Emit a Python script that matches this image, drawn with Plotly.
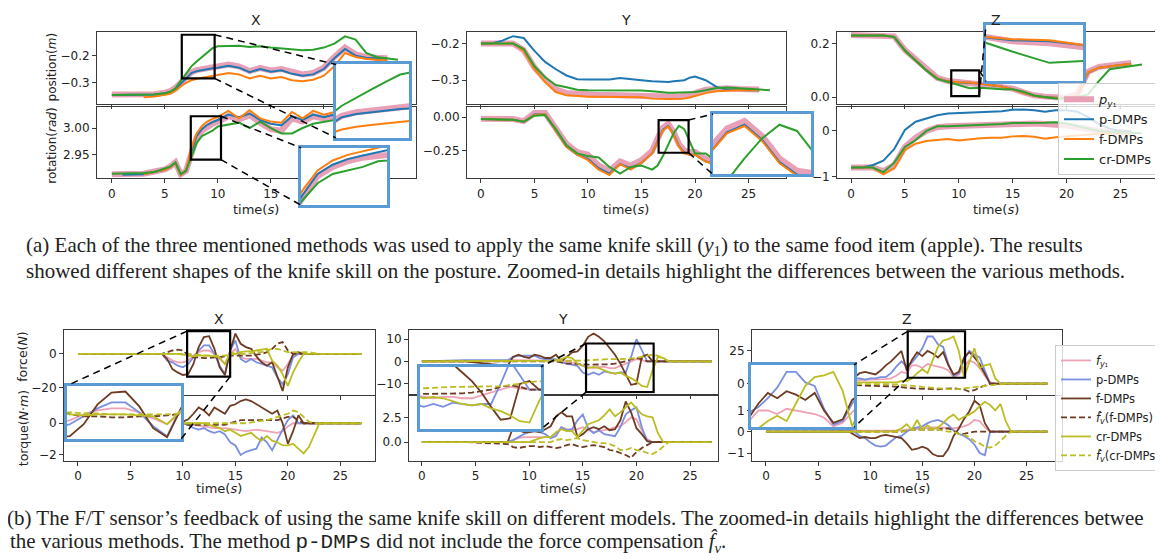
import plotly.graph_objects as go

W, H = 1163, 559

# ======================= (a) posture data =======================
T_AX = [0, 1, 2, 3, 4, 5, 5.5, 6, 6.5, 7, 7.5,
        8, 8.5, 9, 9.5, 10, 11, 12, 13, 14, 15, 16,
        17, 18, 19, 20, 21, 22, 23, 24, 25, 26, 27]
# X position (m)
PX_P = [-0.345, -0.345, -0.345, -0.345, -0.344, -0.338, -0.333, -0.32, -0.3, -0.28, -0.262,
        -0.254, -0.25, -0.246, -0.243, -0.24, -0.233, -0.24, -0.258, -0.246, -0.255, -0.25,
        -0.262, -0.27, -0.265, -0.245, -0.205, -0.17, -0.195, -0.205, -0.208, -0.21, None]
PX_B = [-0.347, -0.347, -0.347, -0.347, -0.345, -0.34, -0.336, -0.325, -0.305, -0.285, -0.265,
        -0.258, -0.254, -0.25, -0.247, -0.245, -0.238, -0.245, -0.262, -0.25, -0.26, -0.255,
        -0.268, -0.275, -0.27, -0.25, -0.21, -0.175, -0.2, -0.208, -0.21, -0.212, None]
PX_O = [None, None, None, -0.355, -0.353, -0.346, -0.342, -0.332, -0.315, -0.302, -0.292,
        -0.286, -0.282, -0.279, -0.276, -0.272, -0.265, -0.27, -0.285, -0.275, -0.285, -0.28,
        -0.292, -0.296, -0.29, -0.275, -0.24, -0.19, -0.205, -0.212, -0.215, -0.218, None]
PX_G = [-0.347, -0.347, -0.347, -0.347, -0.345, -0.34, -0.335, -0.322, -0.295, -0.265, -0.24,
        -0.222, -0.205, -0.188, -0.172, -0.165, -0.165, -0.163, -0.168, -0.165, -0.17, -0.174,
        -0.178, -0.18, -0.178, -0.17, -0.155, -0.128, -0.14, -0.19, -0.205, -0.21, -0.215]
# X rotation (rad)
RX_P = [2.914, 2.914, 2.914, 2.915, 2.919, 2.923, 2.928, 2.936, 2.914, 2.92, 2.952,
        2.982, 2.995, 3.003, 3.008, 3.012, 3.022, 3.016, 3.024, 3.01, 2.998, 2.995,
        3.018, 3.012, 3.022, 3.018, 3.022, 3.018, 3.022, 3.018, 3.02, 3.018, None]
RX_B = [None, 2.913, 2.913, 2.914, 2.918, 2.922, 2.927, 2.935, 2.913, 2.92, 2.955,
        2.985, 2.998, 3.006, 3.011, 3.015, 3.025, 3.02, 3.027, 3.015, 3.008, 3.005,
        3.022, 3.015, 3.025, 3.02, 3.025, 3.02, 3.025, 3.02, 3.022, 3.02, None]
RX_O = [None, None, None, 2.914, 2.918, 2.922, 2.927, 2.935, 2.913, 2.922, 2.962,
        2.99, 3.004, 3.012, 3.017, 3.021, 3.032, 3.018, 3.033, 3.018, 3.012, 3.01,
        3.03, 3.018, 3.032, 3.025, 3.03, 3.025, 3.03, 3.025, 3.027, 3.025, None]
RX_G = [2.915, 2.915, 2.915, 2.916, 2.918, 2.924, 2.928, 2.936, 2.914, 2.92, 2.948,
        2.972, 2.985, 2.99, 2.995, 3.003, 3.007, 3.01, 3.0, 3.012, 3.0, 2.99,
        2.99, 3.0, 3.008, 3.012, 3.015, 3.012, 3.015, 3.015, 3.018, 3.02, 3.02]

T_AY = [0, 1, 2, 3, 4, 5, 6, 7,
        8, 9, 10, 11, 12, 13, 14, 15,
        16, 16.5, 17, 17.5, 18, 18.5, 19, 19.5,
        20, 21, 22, 23, 24, 25, 26, 27]
PY_P = [-0.2, -0.2, -0.2, -0.2, -0.218, -0.265, -0.298, -0.325,
        -0.335, -0.338, -0.34, -0.34, -0.34, -0.341, -0.34, -0.341,
        -0.344, -0.345, -0.345, -0.345, -0.345, -0.345, -0.343, -0.34,
        -0.335, -0.326, -0.322, -0.322, -0.324, -0.325, -0.325, None]
PY_B = [-0.2, -0.2, -0.192, -0.18, -0.185, -0.22, -0.25, -0.27,
        -0.287, -0.297, -0.298, -0.298, -0.298, -0.294, -0.298, -0.3,
        -0.303, -0.304, -0.305, -0.305, -0.303, -0.302, -0.3, -0.293,
        -0.29, -0.3, -0.318, -0.325, -0.327, -0.327, -0.327, None]
PY_O = [-0.2, -0.2, -0.2, -0.2, -0.22, -0.27, -0.305, -0.332,
        -0.341, -0.344, -0.345, -0.345, -0.345, -0.346, -0.344, -0.346,
        -0.35, -0.351, -0.351, -0.351, -0.351, -0.351, -0.35, -0.347,
        -0.343, -0.335, -0.33, -0.328, -0.327, -0.327, -0.327, None]
PY_G = [-0.2, -0.2, -0.2, -0.2, -0.215, -0.262, -0.292, -0.313,
        -0.319, -0.326, -0.327, -0.327, -0.327, -0.328, -0.327, -0.328,
        -0.33, -0.332, -0.333, -0.334, -0.334, -0.334, -0.334, -0.333,
        -0.332, -0.327, -0.321, -0.32, -0.322, -0.325, -0.327, -0.327]
RY_P = [-0.012, -0.012, -0.012, -0.015, -0.03, 0.03, 0.03, -0.085,
        -0.2, -0.26, -0.28, -0.36, -0.4, -0.33, -0.36, -0.32,
        -0.25, -0.16, -0.08, -0.05, -0.11, -0.2, -0.25, -0.26,
        -0.26, -0.31, -0.34, -0.35, -0.36, -0.36, -0.36, None]
RY_B = [-0.015, -0.015, -0.015, -0.02, -0.035, 0.02, 0.02, -0.1,
        -0.22, -0.28, -0.31, -0.38, -0.42, -0.35, -0.38, -0.34,
        -0.27, -0.18, -0.095, -0.065, -0.125, -0.215, -0.265, -0.28,
        -0.28, -0.33, -0.35, -0.36, -0.37, -0.37, -0.37, None]
RY_O = [-0.015, -0.015, -0.015, -0.02, -0.035, 0.015, 0.02, -0.1,
        -0.22, -0.28, -0.32, -0.39, -0.43, -0.35, -0.39, -0.34,
        -0.27, -0.18, -0.1, -0.07, -0.13, -0.22, -0.27, -0.28,
        -0.28, -0.33, -0.35, -0.36, -0.37, -0.37, -0.37, None]
RY_G = [-0.015, -0.015, -0.015, -0.02, -0.035, 0.01, 0.015, -0.09,
        -0.21, -0.27, -0.29, -0.3, -0.37, -0.42, -0.37, -0.36,
        -0.39, -0.36, -0.29, -0.2, -0.12, -0.065, -0.09, -0.18,
        -0.27, -0.27, -0.33, -0.36, -0.37, -0.37, -0.37, -0.37]

T_AZ = [0, 1, 2, 3, 4, 5, 6,
        7, 8, 9, 10, 11, 12, 13,
        14, 15, 16, 17, 18, 19, 20,
        21, 22, 23, 24, 25, 26, 27]
PZ_P = [0.232, 0.232, 0.232, 0.232, 0.227, 0.176, 0.14,
        0.103, 0.072, 0.06, 0.054, 0.052, 0.048, 0.044,
        0.04, 0.032, 0.018, 0.007, 0.002, 0.0, -0.002,
        0.01, 0.095, 0.113, 0.118, 0.122, 0.128, None]
PZ_B = [0.23, 0.23, 0.23, 0.23, 0.225, 0.174, 0.137,
        0.1, 0.07, 0.059, 0.055, 0.054, 0.05, 0.045,
        0.04, 0.03, 0.016, 0.005, 0.0, -0.002, -0.005,
        0.005, 0.092, 0.11, 0.115, 0.12, 0.125, None]
PZ_O = [0.23, 0.23, 0.23, 0.23, 0.225, 0.174, 0.137,
        0.1, 0.07, 0.059, 0.056, 0.055, 0.05, 0.045,
        0.04, 0.03, 0.016, 0.005, 0.0, -0.002, -0.005,
        0.005, 0.093, 0.11, 0.115, 0.12, 0.125, None]
PZ_G = [0.23, 0.23, 0.23, 0.23, 0.225, 0.174, 0.137,
        0.1, 0.068, 0.056, 0.044, 0.033, 0.035, 0.032,
        0.03, 0.03, 0.02, 0.006, 0.0, -0.005, -0.005,
        0.0, 0.01, 0.06, 0.104, 0.11, 0.115, 0.122]
RZ_P = [-0.8, -0.8, -0.8, -0.88, -0.75, -0.35, -0.15,
        0.0, 0.08, 0.1, 0.11, 0.12, 0.13, 0.14,
        0.15, 0.16, 0.17, 0.16, 0.15, 0.14, 0.12,
        0.08, 0.03, 0.0, -0.02, -0.03, -0.04, None]
RZ_B = [-0.8, -0.8, -0.75, -0.65, -0.4, 0.02, 0.2,
        0.27, 0.34, 0.38, 0.39, 0.4, 0.41, 0.42,
        0.43, 0.46, 0.47, 0.45, 0.42, 0.45, 0.45,
        0.42, 0.3, 0.15, 0.05, 0.0, -0.02, None]
RZ_O = [-0.8, -0.8, -0.8, -0.95, -0.82, -0.42, -0.28,
        -0.22, -0.2, -0.18, -0.21, -0.18, -0.16, -0.15,
        -0.15, -0.12, -0.11, -0.13, -0.17, -0.14, -0.12,
        -0.1, -0.07, -0.06, -0.05, -0.05, -0.05, None]
RZ_G = [-0.8, -0.8, -0.8, -0.9, -0.7, -0.35, -0.2,
        0.0, 0.1, 0.1, 0.11, 0.12, 0.13, 0.13,
        0.15, 0.17, 0.17, 0.17, 0.18, 0.19, 0.16,
        0.1, 0.05, 0.0, -0.02, -0.03, -0.04, -0.05]

# ======================= (b) F/T data =======================
T_B = [0, 4, 8, 8.5, 9, 9.5, 10, 10.5, 11, 11.5, 12, 12.5,
       13, 13.5, 14, 14.5, 15, 15.5, 16, 16.5, 17, 17.5, 18, 18.5,
       19, 19.5, 20, 20.5, 21, 21.5, 22, 22.5, 23, 23.5, 24, 27]
# X force (N)
FX_P = [0, 0, 0, -2, -4, -5, -5, -4, -1, 1, 2, 2,
        0, -3, -6, 0, 3, -2, -3, -3, -3, -4, -5, -5,
        -8, -10, -6, -1, 0, 0, 0, 0, 0, 0, 0, 0]
FX_B = [0, 0, 0, -4, -5, -7, -8, -6, -2, 2, 5, 5,
        0, -7, -12, 2, 8, -3, -5, -3, -5, -6, -7, -8,
        -14, -18, -12, -2, 0, 0, 0, 0, 0, 0, 0, 0]
FX_F = [0, 0, 0, -3, -9, -11, -12.5, -12, -6, 4, 10, 10.5,
        3, -8, -12.5, 2, 12, 6, 4, 3, -1.5, -5, -7, -5,
        -14, -22, -8, 0, 1, 0, 0, 0, 0, 0, 0, 0]
FX_FV = [0, 0, 0, 1, 2, 2.5, 2, -1, -2, -2, -2.5, -2.5,
         -2, -2, -1.5, -1, -1, -1, -1, -1, -0.5, 0, 1, 3,
         6, 7, 2, 0, 0, 0, 0, 0, 0, 0, 0, 0]
FX_C = [0, 0, 0, 0, 0, 0, -0.5, -1, -1.5, -1, -1, -1,
        -1.5, -2, -6, 1, 0, 1, 1.5, 1.5, 2, 2.5, 3, -4,
        -7, -12, -19, -11, -5, 0, 0, 0, 0, 0, 0, 0]
FX_CV = [0, 0, 0, 0, 0, 0, 0, 0, -0.5, -0.5, -1, -1,
         -1, -1, -1, -0.5, 0, 0, 0, 0.5, 1, 1, 2, 3,
         3, 2, 1, 1, 1, 1, 1, 0.5, 0, 0, 0, 0]
# X torque (N m)
TX_P = [0, 0, 0, 0, 0, 0, 0, -0.05, -0.1, -0.15, -0.2, -0.25,
        -0.3, -0.3, -0.3, -0.35, -0.4, -0.45, -0.5, -0.45, -0.4, -0.45, -0.5, -0.55,
        -0.6, -0.5, -0.2, 0, 0, 0, 0, 0, 0, 0, 0, 0]
TX_B = [0, 0, 0, 0, 0, 0, 0, -0.1, -0.3, -0.4, -0.3, -0.5,
        -0.6, -0.5, -0.7, -1.2, -1.4, -2.0, -1.8, -1.7, -1.6, -0.9, -1.2, -1.7,
        -1.0, -0.4, 0.2, 0.5, 0, 0, 0, 0, 0, 0, 0, 0]
TX_F = [0, 0, 0, 0, 0, 0, 0.1, 0.25, 0.6, 1.0, 0.8, 0.5,
        1.0, 0.8, 0.6, 1.1, 1.2, 1.4, 1.5, 1.4, 1.2, 1.0, 0.8, 0.6,
        0.8, 0.0, -1.3, -0.5, 0.5, 0, 0, 0, 0, 0, 0, 0]
TX_FV = [0, 0, 0, 0, 0, 0, 0, -0.1, -0.1, -0.1, -0.1, -0.1,
         -0.1, -0.1, -0.1, 0, 0.1, 0.2, 0.2, 0.2, 0.2, 0.2, 0.2, 0.2,
         0.2, 0.3, 0.4, 0.4, 0.2, 0, 0, 0, 0, 0, 0, 0]
TX_C = [0, 0, 0, 0, 0, 0, 0, 0, 0, 0, 0, -0.1,
        -0.2, -0.3, -0.5, -0.4, -0.6, -0.8, -0.7, -0.6, -0.9, -1.1, -0.8, -1.1,
        -1.2, -1.4, -1.4, -1.3, -1.6, -1.9, -1.5, -0.8, 0, 0, 0, 0]
TX_CV = [0, 0, 0, 0, 0, 0, 0, 0, 0, 0, 0, 0,
         0, 0, 0, 0, 0, 0, 0, 0.05, 0.1, 0.15, 0.2, 0.3,
         0.4, 0.5, 0.6, 0.8, 0.7, 0.4, 0.1, 0, 0, 0, 0, 0]
# Y force
FY_P = [0, 0, 0, 0.5, 0.5, 0.5, 0.5, 0.5, 0.5, 0.5, 0.5, 0.5,
        0.3, 0, -0.5, -1, -2, -2.5, -3, -2.5, -2.5, -3, -3, -2,
        -1, 0, 1, 0.5, 0, 0, 0, 0, 0, 0, 0, 0]
FY_B = [0, 0.5, 0.5, 2, 2.5, 2.5, 2.5, 2.5, 1.5, 1, 1, 1,
        -0.5, -1, -1.5, -2, -5, -6, -5, -6, -4.5, -5, -5.5, -5,
        -5, 2, 10, 5, 0, 0, 0, 0, 0, 0, 0, 0]
FY_F = [0, 0, -2, 2, 3, 2, 1.5, 3, 2.5, 1.5, 1.5, 3,
        0, 2, 4, 4.5, 7, 11, 12.5, 11, 9, 6, 3, -1,
        -6, -10.5, -10, 2, 3, 0, 0, 0, 0, 0, 0, 0]
FY_FV = [0, 0, 0, 0, 0, 0, 0, 0, 0, 0, 0, 0,
         -0.5, -1, -1, -1.3, -1.3, -1.5, -1.5, -1.5, -1.5, -1.3, -1, -0.5,
         0, 1, 1.5, 1, 0, 0, 0, 0, 0, 0, 0, 0]
FY_C = [0, 0, 0, 0.3, 0.3, 0.3, 0.3, 0.3, 0.3, 0.3, 0.3, 0.5,
        1, 2, 1.5, -1, -2, -3, -2.5, -3, -4, -5, -5.5, -5,
        -6.5, -7.5, -9, -11, -11.5, -4, 2, 1.5, 0, 0, 0, 0]
FY_CV = [0, 0, 0, 0, 0, 0, 0, 0, 0, 0, 0, 0,
         0, 0, 0, 0, 0.3, 0.5, 0.7, 0.8, 1, 1, 1, 1,
         1, 1.2, 1.6, 2, 2.5, 3, 2.5, 1.5, 0, 0, 0, 0]
# Y torque
TY_P = [0, 0, 0, 0.2, 0.4, 0.5, 0.5, 0.5, 0.5, 0.5, 0.5, 0.8,
        1.5, 1.3, 1.2, 1.3, 1.5, 1.2, 1.0, 1.1, 1.2, 1.3, 1.5, 1.6,
        2.0, 2.5, 2.3, 1.2, 0.3, 0, 0, 0, 0, 0, 0, 0]
TY_B = [0, 0, 0, 0.2, 0.5, 0.8, 1.0, 1.1, 1.0, 0.8, 0.4, 0.6,
        1.5, 1.2, 1.3, 2.2, 2.8, 1.4, 0.9, 1.2, 0.8, 0.7, 0.6, 1.5,
        2.8, 3.2, 3.5, 1.5, 0.1, 0, 0, 0, 0, 0, 0, 0]
TY_F = [0, 0, 0, 1.5, 1.2, 1.0, 1.0, 1.1, 1.0, 1.3, 1.6, 2.6,
        3.0, 2.6, 2.6, 0.5, 0.8, 1.3, 1.5, 1.3, 1.6, 1.2, 1.3, 2.2,
        4.1, 3.0, 1.4, 0.8, 0.1, 0, 0, 0, 0, 0, 0, 0]
TY_FV = [0, 0, -0.2, -0.5, -0.6, -0.5, -0.4, -0.4, -0.5, -0.4, -0.5, -0.6,
         -0.5, -0.3, -0.2, -0.4, -0.5, -0.4, -0.3, -0.4, -0.5, -0.8, -0.9, -1.1,
         -1.3, -1.6, -1.0, -0.6, -0.3, 0, 0, 0, 0, 0, 0, 0]
TY_C = [0, 0, 0, 0, 0, 0, 0, 0.2, 0.4, 0.5, 0.5, 1.0,
        1.3, 1.1, 1.1, 0.5, 1.2, 1.8, 2.0, 2.2, 2.7, 3.3, 2.6, 3.0,
        3.5, 4.0, 3.4, 2.8, 2.6, 2.5, 0.9, 0, 0, 0, 0, 0]
TY_CV = [0, 0, 0, 0, 0, 0, 0, 0, 0, 0, 0, 0.2,
         0.3, 0.2, 0.3, 0.4, 0.2, 0.1, 0, -0.1, -0.1, -0.2, -0.4, -0.8,
         -0.8, -0.6, -0.8, -0.9, -1.1, -1.2, -0.9, -0.4, 0, 0, 0, 0]
# Z force
FZ_P = [0, 0, 2, 2.5, 3, 3, 3, 3, 3, 3.5, 4, 6,
        9, 8, 14, 14, 12, 15, 14, 13, 12, 10, 5, 7,
        13, 18, 16, 12, 6, 1, 0, 0, 0, 0, 0, 0]
FZ_B = [0, 0, 3, 4, 4, 3, 4, 4, 5, 5, 8, 13,
        17, 13, 16, 21, 27, 36, 36, 30, 28, 15, 6, 8,
        18, 25, 22, 20, 10, 0, 0, 0, 0, 0, 0, 0]
FZ_F = [0, 0, 2, 5, 8, 9, 8, 7, 10, 14, 17, 21,
        25, 10, 18, 24, 21, 25, 23, 20, 24, 14, 7, 9,
        20, 24, 20, 15, 8, 0, 0, 0, 0, 0, 0, 0]
FZ_FV = [0, 0, -1, -1.2, -1.5, -1.5, -1.5, -1.8, -2, -2, -2, -2.5,
         -3, -3.3, -3.5, -3.8, -4, -4.2, -4.5, -4.3, -4, -3.8, -3.5, -4,
         -4.5, -6, -5, -3, -1.5, 0, 0, 0, 0, 0, 0, 0]
FZ_C = [0, 0, 1, 1, 1, 1, 1, 1, 1, 1, 1, 1,
        2, 2, 4, 8, 11, 8, 18, 28, 33, 34, 36, 25,
        5, 16, 27, 12, 14, 15, 4, 0, 0, 0, 0, 0]
FZ_CV = [0, 0, 0, 0, 0, 0, 0, 0, 0, 0, 0, -0.5,
         -1, -1.2, -1.5, -2, -2.5, -2.8, -3, -3.2, -3.5, -4, -4.5, -4,
         -3.5, -3.2, -3, -2.5, -2, -1.5, -1, -0.5, 0, 0, 0, 0]
# Z torque
TZ_P = [0, 0, 0.05, 0.05, 0.05, 0.05, 0.05, 0.05, 0.05, 0.05, 0.05, 0.05,
        0.05, 0.1, 0.1, 0.12, 0.15, 0.18, 0.2, 0.2, 0.2, 0.18, 0.15, 0.2,
        0.25, 0.35, 0.55, 0.5, 0.2, 0, 0, 0, 0, 0, 0, 0]
TZ_B = [0, 0, 0, 0, -0.2, -0.3, -0.5, -0.65, -0.7, -0.65, -0.45, -0.25,
        -0.2, 0, 0.15, 0.2, 0.25, 0.4, 0.5, 0.55, 0.45, 0.3, 0.05, -0.1,
        -0.2, -0.35, -0.6, -1.0, -1.1, 0, 0, 0, 0, 0, 0, 0]
TZ_F = [0, 0, 0, -0.15, -0.3, -0.25, -0.3, -0.3, -0.2, -0.15, -0.2, -0.25,
        -0.3, -0.55, -0.85, -0.8, -0.7, -0.8, -1.05, -1.15, -1.15, -0.8, -0.2, 0.15,
        0.6, 0.95, 1.45, 1.25, 0.4, 0, 0, 0, 0, 0, 0, 0]
TZ_FV = [0, 0, 0, 0, 0, 0, 0, 0, 0, 0, 0, 0,
         0, 0.05, 0.1, 0.1, 0.1, 0.1, 0.1, 0.1, 0.15, 0.15, 0.05, -0.1,
         -0.1, -0.05, 0, 0, 0, 0, 0, 0, 0, 0, 0, 0]
TZ_C = [0, 0, 0, 0, 0, 0, 0, 0, 0, 0, 0, 0.05,
        0.15, 0.35, 0.1, 0.55, 0.1, 0.3, 0.1, 0.2, 0.4, 0.65, 0.8, 0.55,
        0.7, 0.8, 0.95, 1.2, 1.4, 1.25, 1.0, 1.3, 0.5, 0, 0, 0]
TZ_CV = [0, 0, 0, 0, 0, 0, 0, 0, 0, 0, 0, 0,
         0, 0.05, 0.1, 0.1, 0.1, 0.1, 0.1, 0.1, 0.05, 0, 0, -0.1,
         -0.15, -0.25, -0.45, -0.55, -0.7, -0.75, -0.65, -0.4, -0.2, 0, 0, 0]

TIME_TICKS = [0, 5, 10, 15, 20, 25]

# ======================= styles =======================
A_STYLE = [("P", "<i>p</i><sub><i>y</i>₁</sub>", "#e8a0b6", 6, "solid"),
           ("B", "p-DMPs", "#1f77b4", 2, "solid"),
           ("O", "f-DMPs", "#ff7f0e", 2, "solid"),
           ("G", "cr-DMPs", "#2ca02c", 2, "solid")]
B_STYLE = [("P", "<i>f</i><sub><i>y</i>₁</sub>", "#eda2b5", 1.8, "solid"),
           ("B", "p-DMPs", "#7a8fe0", 1.8, "solid"),
           ("F", "f-DMPs", "#6e3a22", 1.8, "solid"),
           ("FV", "<i>f̂</i><sub><i>v</i></sub>(f-DMPs)", "#6e3a22", 1.8, "6px,3px"),
           ("C", "cr-DMPs", "#bcbd22", 1.8, "solid"),
           ("CV", "<i>f̂</i><sub><i>v</i></sub>(cr-DMPs)", "#bcbd22", 1.8, "6px,3px")]

PANELS = [
    dict(key="aXp", box=(89, 24, 408, 97), t=T_AX, d=dict(P=PX_P, B=PX_B, O=PX_O, G=PX_G), st=A_STYLE,
         xr=[-1.4, 28.7], yr=[-0.381, -0.111], yt=[-0.3, -0.2], fmt=".1f", xl=False, leg="legend"),
    dict(key="aXr", box=(89, 100, 408, 172), t=T_AX, d=dict(P=RX_P, B=RX_B, O=RX_O, G=RX_G), st=A_STYLE,
         xr=[-1.4, 28.7], yr=[2.906, 3.039], yt=[2.95, 3.00], fmt=".2f", xl=True, leg=None),
    dict(key="aYp", box=(459, 24, 778, 97), t=T_AY, d=dict(P=PY_P, B=PY_B, O=PY_O, G=PY_G), st=A_STYLE,
         xr=[-1.3, 28.5], yr=[-0.365, -0.168], yt=[-0.3, -0.2], fmt=".1f", xl=False, leg=None),
    dict(key="aYr", box=(459, 100, 778, 172), t=T_AY, d=dict(P=RY_P, B=RY_B, O=RY_O, G=RY_G), st=A_STYLE,
         xr=[-1.3, 28.5], yr=[-0.456, 0.074], yt=[-0.25, 0.0], fmt=".2f", xl=True, leg=None),
    dict(key="aZp", box=(829, 24, 1148, 97), t=T_AZ, d=dict(P=PZ_P, B=PZ_B, O=PZ_O, G=PZ_G), st=A_STYLE,
         xr=[-1.3, 28.3], yr=[-0.026, 0.244], yt=[0.0, 0.2], fmt=".1f", xl=False, leg=None),
    dict(key="aZr", box=(829, 100, 1148, 172), t=T_AZ, d=dict(P=RZ_P, B=RZ_B, O=RZ_O, G=RZ_G), st=A_STYLE,
         xr=[-1.3, 28.3], yr=[-1.04, 0.52], yt=[-1, 0], fmt="d", xl=True, leg=None),
    dict(key="bXf", box=(56, 325, 367, 390), t=T_B, d=dict(P=FX_P, B=FX_B, F=FX_F, FV=FX_FV, C=FX_C, CV=FX_CV), st=B_STYLE,
         xr=[-1.33, 28.3], yr=[-24.1, 14.1], yt=[-20, 0], fmt="d", xl=False, leg="legend2"),
    dict(key="bXt", box=(56, 392, 367, 457), t=T_B, d=dict(P=TX_P, B=TX_B, F=TX_F, FV=TX_FV, C=TX_C, CV=TX_CV), st=B_STYLE,
         xr=[-1.33, 28.3], yr=[-2.375, 1.69], yt=[-2, 0], fmt="d", xl=True, leg=None),
    dict(key="bYf", box=(401, 325, 710, 389), t=T_B, d=dict(P=FY_P, B=FY_B, F=FY_F, FV=FY_FV, C=FY_C, CV=FY_CV), st=B_STYLE,
         xr=[-1.2, 27.6], yr=[-14.4, 14.0], yt=[-10, 0, 10], fmt="d", xl=False, leg=None),
    dict(key="bYt", box=(401, 392, 710, 457), t=T_B, d=dict(P=TY_P, B=TY_B, F=TY_F, FV=TY_FV, C=TY_C, CV=TY_CV), st=B_STYLE,
         xr=[-1.2, 27.6], yr=[-1.9, 4.6], yt=[0.0, 2.5], fmt=".1f", xl=True, leg=None),
    dict(key="bZf", box=(744, 325, 1054, 390), t=T_B, d=dict(P=FZ_P, B=FZ_B, F=FZ_F, FV=FZ_FV, C=FZ_C, CV=FZ_CV), st=B_STYLE,
         xr=[-1.34, 28.4], yr=[-8.3, 40.9], yt=[0, 25], fmt="d", xl=False, leg=None),
    dict(key="bZt", box=(744, 392, 1054, 457), t=T_B, d=dict(P=TZ_P, B=TZ_B, F=TZ_F, FV=TZ_FV, C=TZ_C, CV=TZ_CV), st=B_STYLE,
         xr=[-1.34, 28.4], yr=[-1.37, 1.65], yt=[-1, 0, 1], fmt="d", xl=True, leg=None),
]

# zoom insets: parent, rect (t0,t1,v0,v1), inset pixel box, inset ranges, connectors
INSETS = [
    dict(parent="aXp", rect=(6.6, 9.7, -0.285, -0.122), box=(328, 57, 401, 131),
         xr=[7.3, 9.8], yr=[-0.31, -0.15], conn=[("tr", "tl"), ("br", "bl")]),
    dict(parent="aXr", rect=(7.45, 10.3, 2.941, 3.022), box=(293, 141, 379, 199),
         xr=[7.45, 10.3], yr=[2.941, 3.022], conn=[("tr", "tl"), ("br", "bl")]),
    dict(parent="aYr", rect=(16.6, 19.4, -0.265, -0.022), box=(705, 107, 803, 168),
         xr=[16.6, 19.4], yr=[-0.265, -0.022], conn=[("tr", "tl"), ("br", "bl")]),
    dict(parent="aZp", rect=(9.3, 11.9, 0.004, 0.1), box=(978, 17, 1075, 74),
         xr=[9.3, 11.9], yr=[0.015, 0.07], conn=[("br", "tl"), ("tr", "bl")]),
    dict(parent="bXf", rect=(10.4, 14.5, -13.5, 13.5), box=(59, 381, 173, 435),
         xr=[10.4, 14.5], yr=[-13.5, 13.5], conn=[("tl", "tl"), ("br", "br")]),
    dict(parent="bYf", rect=(15.3, 21.6, -13.8, 8.0), box=(412, 362, 533, 425),
         xr=[15.3, 21.6], yr=[-13.8, 8.0], conn=[("tl", "tr"), ("bl", "br")]),
    dict(parent="bZf", rect=(13.6, 19.1, 4.5, 40.0), box=(743, 360, 846, 423),
         xr=[13.6, 19.1], yr=[4.5, 40.0], conn=[("tl", "tr"), ("bl", "br")]),
]

FRAME = "#3a3a3a"
INSET_BLUE = "#5b9bd5"
TICKFONT = dict(family="DejaVu Sans", size=12, color="#222")

fig = go.Figure()
layout = dict(width=W, height=H, margin=dict(l=0, r=0, t=0, b=0),
              paper_bgcolor="white", plot_bgcolor="white", hovermode=False, showlegend=True)
shapes, annotations = [], []


def ref(i, a):
    return a if i == 1 else f"{a}{i}"


def set_axes(i, box, xr, yr, xargs, yargs):
    x0, y0, x1, y1 = box
    xa = dict(domain=[x0 / W, x1 / W], range=xr, anchor=ref(i, "y"), showgrid=False, zeroline=False)
    ya = dict(domain=[1 - y1 / H, 1 - y0 / H], range=yr, anchor=ref(i, "x"), showgrid=False, zeroline=False)
    xa.update(xargs)
    ya.update(yargs)
    layout["xaxis" if i == 1 else f"xaxis{i}"] = xa
    layout["yaxis" if i == 1 else f"yaxis{i}"] = ya


def add_lines(i, p, legend):
    for key, name, color, width, dash in p["st"]:
        fig.add_trace(go.Scatter(
            x=p["t"], y=p["d"][key], mode="lines", name=name,
            line=dict(color=color, width=width, dash=dash),
            xaxis=ref(i, "x"), yaxis=ref(i, "y"),
            showlegend=legend is not None, legend=legend or "legend",
            connectgaps=False, hoverinfo="skip"))


info = {}
idx = 0
for p in PANELS:
    idx += 1
    info[p["key"]] = (idx, p)
    set_axes(idx, p["box"], p["xr"], p["yr"],
             dict(showline=True, mirror=True, linecolor=FRAME, linewidth=1, ticks="outside",
                  ticklen=4, tickcolor=FRAME, tickvals=TIME_TICKS, showticklabels=p["xl"],
                  tickfont=TICKFONT),
             dict(showline=True, mirror=True, linecolor=FRAME, linewidth=1, ticks="outside",
                  ticklen=4, tickcolor=FRAME, tickvals=p["yt"], tickformat=p["fmt"],
                  tickfont=TICKFONT))
    add_lines(idx, p, p["leg"])


def d2p(p, t, v):
    x0, y0, x1, y1 = p["box"]
    px = x0 + (t - p["xr"][0]) / (p["xr"][1] - p["xr"][0]) * (x1 - x0)
    py = y1 - (v - p["yr"][0]) / (p["yr"][1] - p["yr"][0]) * (y1 - y0)
    return px, py


for ins in INSETS:
    idx += 1
    pi, p = info[ins["parent"]]
    set_axes(idx, ins["box"], ins["xr"], ins["yr"],
             dict(showline=True, mirror=True, linecolor=INSET_BLUE, linewidth=2.5,
                  showticklabels=False, ticks=""),
             dict(showline=True, mirror=True, linecolor=INSET_BLUE, linewidth=2.5,
                  showticklabels=False, ticks=""))
    add_lines(idx, dict(t=p["t"], d=p["d"], st=p["st"]), None)
    t0, t1, v0, v1 = ins["rect"]
    shapes.append(dict(type="rect", xref=ref(pi, "x"), yref=ref(pi, "y"), x0=t0, x1=t1, y0=v0, y1=v1,
                       line=dict(color="black", width=2.2), layer="above"))
    rc = dict(tl=d2p(p, t0, v1), tr=d2p(p, t1, v1), bl=d2p(p, t0, v0), br=d2p(p, t1, v0))
    bx0, by0, bx1, by1 = ins["box"]
    bc = dict(tl=(bx0, by0), tr=(bx1, by0), bl=(bx0, by1), br=(bx1, by1))
    for a, b in ins["conn"]:
        (ax, ay), (bx, by) = rc[a], bc[b]
        shapes.append(dict(type="line", xref="paper", yref="paper",
                           x0=ax / W, y0=1 - ay / H, x1=bx / W, y1=1 - by / H,
                           line=dict(color="black", width=1.5, dash="7px,5px"), layer="above"))


def text(s, x, y, size=13, angle=0, family="DejaVu Sans", xanchor="center"):
    annotations.append(dict(text=s, x=x / W, y=1 - y / H, xref="paper", yref="paper",
                            showarrow=False, textangle=angle, xanchor=xanchor, yanchor="middle",
                            font=dict(family=family, size=size, color="#222")))


# panel titles and axis labels
for s, x in (("X", 248), ("Y", 618), ("Z", 988)):
    text(s, x, 12, size=14)
    text("time(<i>s</i>)", x, 203, size=13)
for s, x in (("X", 211), ("Y", 555), ("Z", 899)):
    text(s, x, 314, size=14)
    text("time(<i>s</i>)", x, 485, size=13)
text("position(<i>m</i>)", 44, 60, size=12, angle=-90)
text("rotation(<i>rad</i>)", 44, 139, size=12, angle=-90)
text("force(<i>N</i>)", 15, 352, size=12.5, angle=-90)
text("torque(<i>N</i>·<i>m</i>)", 15, 424, size=12.5, angle=-90)

# captions
CAP = "Liberation Serif"
text("(a) Each of the three mentioned methods was used to apply the same knife skill (<i>y</i><sub>1</sub>) "
     "to the same food item (apple). The results", 16, 240, size=21, family=CAP, xanchor="left")
text("showed different shapes of the knife skill on the posture. Zoomed-in details highlight the "
     "differences between the various methods.", 16, 265, size=21, family=CAP, xanchor="left")
text("(b) The F/T sensor’s feedback of using the same knife skill on different models. The zoomed-in "
     "details highlight the differences betwee", -3, 515, size=21, family=CAP, xanchor="left")
text("the various methods. The method <span style=\"font-family:'Liberation Mono'\">p-DMPs</span> "
     "did not include the force compensation <i>f̂</i><sub><i>v</i></sub>.", 0, 539,
     size=21, family=CAP, xanchor="left")

layout["shapes"] = shapes
layout["annotations"] = annotations
layout["legend"] = dict(x=1050 / W, y=1 - 76 / H, xanchor="left", yanchor="top",
                        bgcolor="rgba(255,255,255,0.8)", bordercolor="#cccccc", borderwidth=1,
                        font=dict(family="DejaVu Sans", size=13, color="#222"), tracegroupgap=0)
layout["legend2"] = dict(x=1047 / W, y=1 - 340 / H, xanchor="left", yanchor="top",
                         bgcolor="rgba(255,255,255,0.8)", bordercolor="#cccccc", borderwidth=1,
                         font=dict(family="DejaVu Sans", size=11.5, color="#222"), tracegroupgap=0)
fig.update_layout(**layout)
fig.write_html("out.html")
